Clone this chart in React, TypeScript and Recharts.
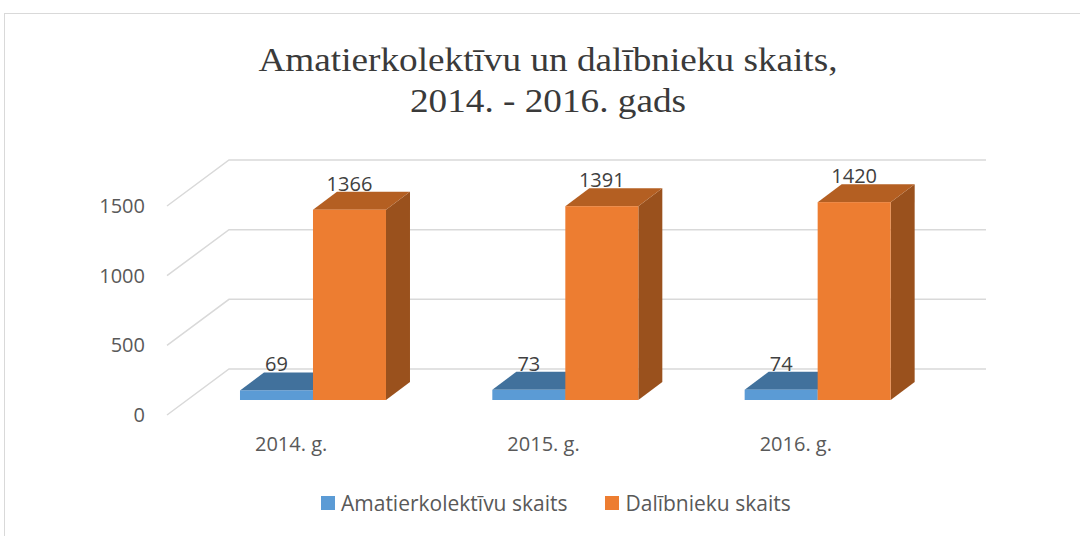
import React from 'react';
import { BarChart, Bar, XAxis, YAxis, CartesianGrid, LabelList } from 'recharts';

const years = ['2014. g.', '2015. g.', '2016. g.'];
const kolektivi = [69, 73, 74];
const dalibnieki = [1366, 1391, 1420];
const yTicks = [0, 500, 1000, 1500];

const seriesNames = ['Amatierkolektīvu skaits', 'Dalībnieku skaits'];

const data = years.map((name, i) => ({
  name,
  kolektivi: kolektivi[i],
  dalibnieki: dalibnieki[i],
}));

// 3d look: bars sit on a plane; floor runs from front (FRONT_*) to back wall (BACK_*)
const FRONT_DX = -20;
const FRONT_DY = 15;
const BACK_DX = 42;
const BACK_DY = -31;
const BAR_DX = 24;
const BAR_DY = -18;

const FONT = '"Open Sans", sans-serif';

const makeBox = (front: string, top: string, side: string) => (props: any) => {
  const { x, y, width, height } = props;
  if (width == null || height == null) return null;
  const topPts = `${x},${y} ${x + BAR_DX},${y + BAR_DY} ${x + width + BAR_DX},${y + BAR_DY} ${x + width},${y}`;
  const sidePts = `${x + width},${y} ${x + width + BAR_DX},${y + BAR_DY} ${x + width + BAR_DX},${y + height + BAR_DY} ${x + width},${y + height}`;
  return (
    <g>
      <polygon points={sidePts} fill={side} />
      <polygon points={topPts} fill={top} />
      <rect x={x} y={y} width={width} height={height} fill={front} />
    </g>
  );
};

const BlueBox = makeBox('#5B9BD5', '#41719C', '#41719C');
const OrangeBox = makeBox('#ED7D31', '#B45F22', '#9A511D');

const gridLine = (props: any) => {
  const { x1, y1, x2, y2, index } = props;
  const pts = `${x1 + FRONT_DX},${y1 + FRONT_DY} ${x1 + BACK_DX},${y1 + BACK_DY} ${x2 + BACK_DX},${y2 + BACK_DY}`;
  return <polyline key={`g-${index}`} points={pts} fill="none" stroke="#D9D9D9" strokeWidth={1.5} />;
};

const YTick = (props: any) => {
  const { x, y, payload } = props;
  return (
    <text x={x} y={y + FRONT_DY + 7} textAnchor="end" fontSize={20} fontFamily={FONT} fill="#595959">
      {payload.value}
    </text>
  );
};

const XTick = (props: any) => {
  const { x, y, payload } = props;
  return (
    <text x={x + FRONT_DX - 2} y={y + 51} textAnchor="middle" fontSize={20} fontFamily={FONT} fill="#595959">
      {payload.value}
    </text>
  );
};

const valueLabel = (props: any) => {
  const { x, y, width, value } = props;
  return (
    <text x={x + width / 2} y={y - 19} textAnchor="middle" fontSize={20} fontFamily={FONT} fill="#404040">
      {value}
    </text>
  );
};

export default function App() {
  return (
    <div style={{ position: 'absolute', left: 0, top: 0, width: 1080, height: 536, overflow: 'hidden', background: '#fff' }}>
      <div
        style={{
          position: 'absolute',
          left: 4,
          top: 13,
          width: 1200,
          height: 700,
          border: '1.5px solid #D9D9D9',
        }}
      />
      <div
        style={{
          position: 'absolute',
          left: 0,
          top: 39,
          width: 1096,
          textAlign: 'center',
          fontFamily: '"Liberation Serif", "Times New Roman", serif',
          fontSize: 34,
          lineHeight: '41px',
          color: '#3A3A3A',
          transform: 'scaleX(1.095)',
          transformOrigin: '548px 0',
        }}
      >
        Amatierkolektīvu un dalībnieku skaits,
        <br />
        2014. - 2016. gads
      </div>
      <div style={{ position: 'absolute', left: 0, top: 0 }}>
        <BarChart
          width={1080}
          height={536}
          data={data}
          margin={{ top: 191, right: 136, bottom: 106, left: 127 }}
          barGap={0}
          barCategoryGap="21%"
        >
          <CartesianGrid vertical={false} horizontal={gridLine} />
          <XAxis dataKey="name" axisLine={false} tickLine={false} tickSize={0} tickMargin={0} height={30} tick={XTick} />
          <YAxis
            domain={[0, 1500]}
            ticks={yTicks}
            axisLine={false}
            tickLine={false}
            tickSize={0}
            tickMargin={42}
            width={60}
            tick={YTick}
          />
          <Bar dataKey="kolektivi" name={seriesNames[0]} shape={BlueBox} isAnimationActive={false}>
            <LabelList dataKey="kolektivi" content={valueLabel} />
          </Bar>
          <Bar dataKey="dalibnieki" name={seriesNames[1]} shape={OrangeBox} isAnimationActive={false}>
            <LabelList dataKey="dalibnieki" content={valueLabel} />
          </Bar>
        </BarChart>
      </div>
      <div
        style={{
          position: 'absolute',
          left: 321,
          top: 489,
          display: 'flex',
          alignItems: 'center',
          fontFamily: FONT,
          fontSize: 21,
          color: '#595959',
          lineHeight: '28px',
        }}
      >
        <span style={{ width: 14, height: 14, background: '#5B9BD5', marginRight: 6 }} />
        <span style={{ marginRight: 38 }}>{seriesNames[0]}</span>
        <span style={{ width: 14, height: 14, background: '#ED7D31', marginRight: 6 }} />
        <span>{seriesNames[1]}</span>
      </div>
    </div>
  );
}
